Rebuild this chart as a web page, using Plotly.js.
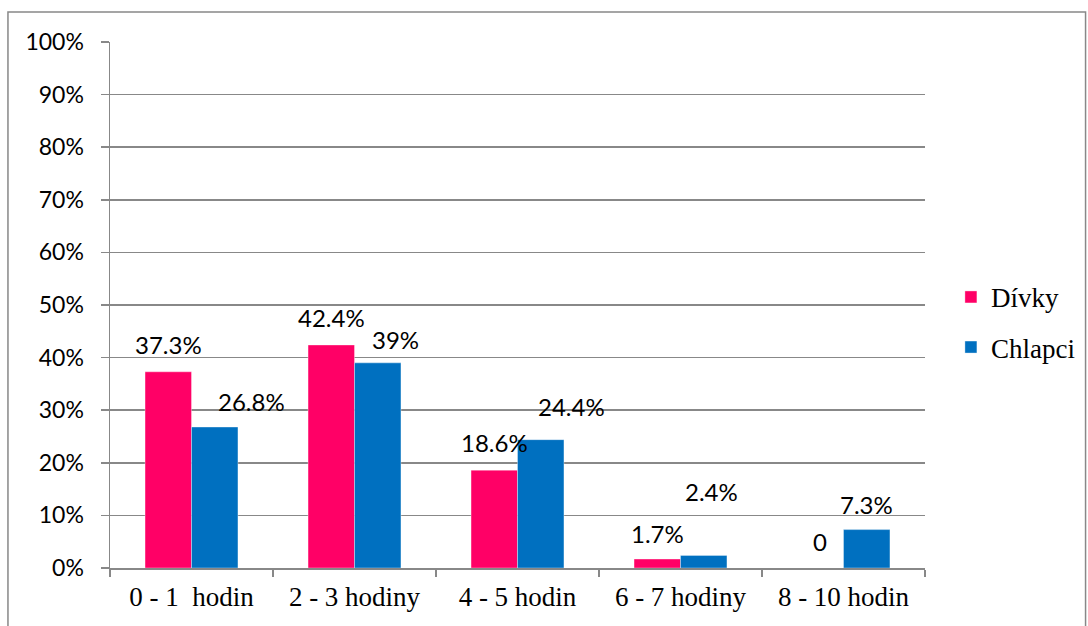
<!DOCTYPE html>
<html>
<head>
<meta charset="utf-8">
<script src="https://cdn.plot.ly/plotly-3.0.1.min.js"></script>
<style>html,body{margin:0;padding:0;background:#fff;}#chart{width:1088px;height:626px;}</style>
</head>
<body>
<div id="chart"></div>
<script>
// ---- data ----
const categories = ['0 - 1\u00a0 hodin', '2 - 3 hodiny', '4 - 5 hodin', '6 - 7 hodiny', '8 - 10 hodin'];
const divky = [0.373, 0.424, 0.186, 0.017, 0];
const chlapci = [0.268, 0.39, 0.244, 0.024, 0.073];
const divkyLabels = ['37.3%', '42.4%', '18.6%', '1.7%', '0'];
const chlapciLabels = ['26.8%', '39%', '24.4%', '2.4%', '7.3%'];
const seriesNames = ['Dívky', 'Chlapci'];

// ---- style ----
const colors = ['#FF0066', '#0070C0'];
const barHalf = 23.3;
// extra label offsets (px) to mimic the original label placement
const divkyLabelDx = [0, 0, 0, 0, 0];
const divkyLabelDy = [27, 27, 28, 26, 27];
const chlapciLabelDx = [37, 18, 31, 8, 0];
const chlapciLabelDy = [26, 23, 33, 64, 25];

const SERIF = 'Liberation Serif, Times New Roman, serif';
const SANS = 'Lato, Open Sans, sans-serif';
const labelFont = {family: SANS, size: 24, color: '#000'};
const serifFont = {family: SERIF, size: 27, color: '#000'};

const traces = [
  {type: 'bar', name: seriesNames[0], x: categories, y: divky, marker: {color: colors[0], line: {color: 'rgba(255,255,255,0.6)', width: 0.6}}, legendgroup: 'a', hoverinfo: 'none'},
  {type: 'bar', name: seriesNames[1], x: categories, y: chlapci, marker: {color: colors[1], line: {color: 'rgba(255,255,255,0.6)', width: 0.6}}, legendgroup: 'b', hoverinfo: 'none'}
];

const annotations = [];
categories.forEach((c, j) => {
  annotations.push({x: c, y: divky[j], xref: 'x', yref: 'y', text: divkyLabels[j], showarrow: false,
    xshift: -barHalf + divkyLabelDx[j], yshift: divkyLabelDy[j], font: labelFont, xanchor: 'center', yanchor: 'middle'});
  annotations.push({x: c, y: chlapci[j], xref: 'x', yref: 'y', text: chlapciLabels[j], showarrow: false,
    xshift: barHalf + chlapciLabelDx[j], yshift: chlapciLabelDy[j], font: labelFont, xanchor: 'center', yanchor: 'middle'});
});

const layout = {
  width: 1088, height: 626,
  font: {family: SERIF, size: 27, color: '#000'},
  margin: {l: 110, r: 163, t: 42, b: 58, pad: 0, autoexpand: false},
  paper_bgcolor: '#fff', plot_bgcolor: '#fff',
  barmode: 'group', bargap: 0.43, bargroupgap: 0,
  showlegend: true,
  legend: {x: 0.874, y: 0.485, xref: 'container', yref: 'container', xanchor: 'left', yanchor: 'middle',
    font: {family: SERIF, size: 27, color: '#000'},
    traceorder: 'grouped', tracegroupgap: 12, itemwidth: 30, bgcolor: 'rgba(0,0,0,0)'},
  xaxis: {type: 'category', showline: true, linecolor: '#888', linewidth: 1.5,
    ticks: 'outside', tickson: 'boundaries', ticklen: 7, tickcolor: '#888', tickwidth: 1.5,
    ticklabelstandoff: 4,
    tickfont: serifFont, showgrid: false, fixedrange: true},
  yaxis: {range: [0, 1], dtick: 0.1, tickformat: '.0%', showline: true, linecolor: '#888', linewidth: 1.5,
    ticks: 'outside', ticklen: 8, tickcolor: '#888', tickwidth: 1.5,
    ticklabelstandoff: 12,
    gridcolor: '#888', gridwidth: 1.5, zeroline: false,
    tickfont: {family: SANS, size: 23, color: '#000'}, fixedrange: true},
  annotations: annotations,
  shapes: [{type: 'rect', xref: 'paper', yref: 'paper', x0: -0.1252, x1: 1.197, y0: -0.2, y1: 1.057,
    line: {color: '#888', width: 1.5}, fillcolor: 'rgba(0,0,0,0)', layer: 'below'}]
};

Plotly.newPlot('chart', traces, layout, {displayModeBar: false, staticPlot: true});
</script>
</body>
</html>
